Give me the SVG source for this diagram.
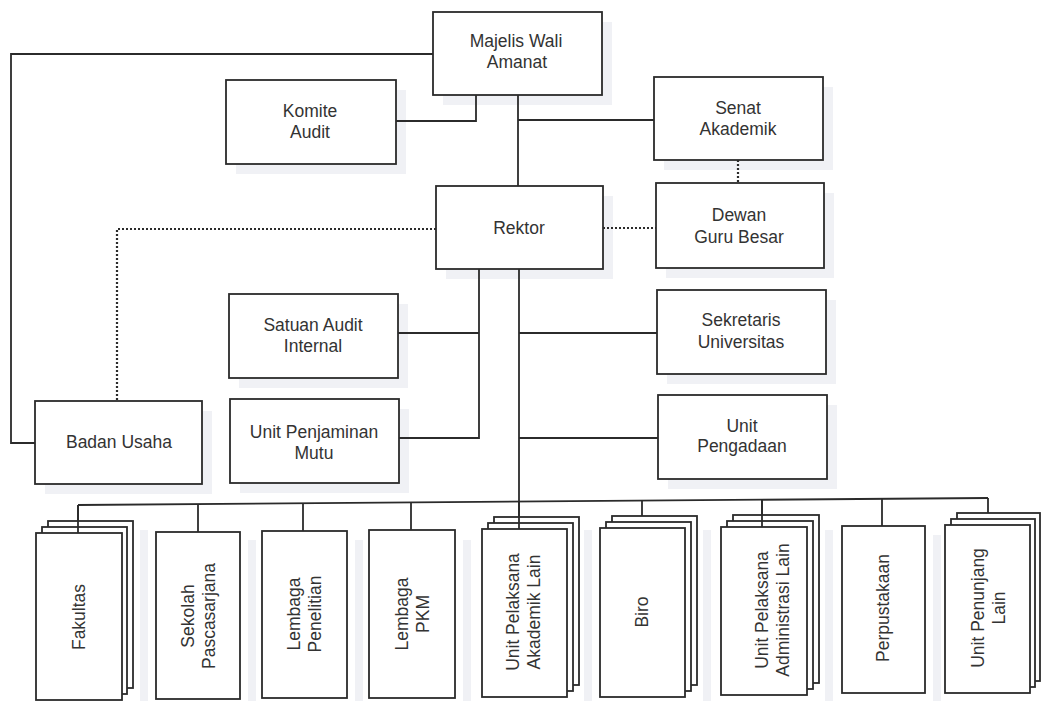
<svg xmlns="http://www.w3.org/2000/svg" width="1041" height="701" viewBox="0 0 1041 701">
<style>
.bg{fill:#ffffff}
.sh{fill:#f0f1f5}
.box{fill:#ffffff;stroke:#2b2b2b;stroke-width:1.8}
.ln{fill:none;stroke:#2b2b2b;stroke-width:1.8}
.dt{fill:none;stroke:#2b2b2b;stroke-width:2.2;stroke-dasharray:2 2}
.t{font-family:"Liberation Sans",Arial,sans-serif;font-size:17.5px;fill:#333333;text-anchor:middle}
</style>
<rect class="bg" x="0" y="0" width="1041" height="701"/>
<g id="shadows">
<rect class="sh" x="443" y="22" width="169" height="83"/>
<rect class="sh" x="236" y="90" width="170" height="84"/>
<rect class="sh" x="664" y="87" width="169" height="83"/>
<rect class="sh" x="446" y="196" width="167" height="83"/>
<rect class="sh" x="666" y="193" width="168" height="85"/>
<rect class="sh" x="239" y="304" width="169" height="84"/>
<rect class="sh" x="240" y="409" width="169" height="84"/>
<rect class="sh" x="45" y="411" width="167" height="83"/>
<rect class="sh" x="667" y="300" width="169" height="84"/>
<rect class="sh" x="668" y="405" width="169" height="84"/>
<rect class="sh" x="140" y="530" width="8" height="171"/>
<rect class="sh" x="248" y="540" width="8" height="161"/>
<rect class="sh" x="355" y="540" width="8" height="161"/>
<rect class="sh" x="463" y="540" width="8" height="161"/>
<rect class="sh" x="584" y="530" width="8" height="171"/>
<rect class="sh" x="703" y="530" width="8" height="171"/>
<rect class="sh" x="825" y="530" width="8" height="171"/>
<rect class="sh" x="933" y="535" width="8" height="166"/>
</g>
<g id="connectors">
<polyline class="ln" points="433,54 11,54 11,443 35,443"/>
<polyline class="ln" points="396,121 476,121 476,95"/>
<line class="ln" x1="518" y1="95" x2="518" y2="186"/>
<line class="ln" x1="518" y1="120" x2="654" y2="120"/>
<line class="dt" x1="738" y1="160" x2="738" y2="183"/>
<line class="dt" x1="603" y1="228" x2="656" y2="228"/>
<polyline class="dt" points="436,229 117,229 117,401"/>
<polyline class="ln" points="479,269 479,438 399,438"/>
<line class="ln" x1="398" y1="333" x2="479" y2="333"/>
<line class="ln" x1="519" y1="269" x2="519" y2="529"/>
<line class="ln" x1="519" y1="333" x2="657" y2="333"/>
<line class="ln" x1="519" y1="438" x2="658" y2="438"/>
<line class="ln" x1="78" y1="505" x2="988" y2="498"/>
<line class="ln" x1="78" y1="505" x2="78" y2="533"/>
<line class="ln" x1="198" y1="504" x2="198" y2="532"/>
<line class="ln" x1="303" y1="503.3" x2="303" y2="531"/>
<line class="ln" x1="411" y1="502.4" x2="411" y2="530"/>
<line class="ln" x1="642" y1="500.7" x2="642" y2="516"/>
<line class="ln" x1="762" y1="499.7" x2="762" y2="527"/>
<line class="ln" x1="882" y1="498.8" x2="882" y2="526"/>
<line class="ln" x1="988" y1="498" x2="988" y2="513"/>
</g>
<g id="majelis-wali-amanat">
<rect class="box" x="433" y="12" width="169" height="83"/>
<text class="t" x="516" y="47">Majelis Wali</text>
<text class="t" x="517" y="68">Amanat</text>
</g>
<g id="komite-audit">
<rect class="box" x="226" y="80" width="170" height="84"/>
<text class="t" x="310" y="117">Komite</text>
<text class="t" x="310" y="138">Audit</text>
</g>
<g id="senat-akademik">
<rect class="box" x="654" y="77" width="169" height="83"/>
<text class="t" x="738" y="114">Senat</text>
<text class="t" x="738" y="135">Akademik</text>
</g>
<g id="rektor">
<rect class="box" x="436" y="186" width="167" height="83"/>
<text class="t" x="519" y="234">Rektor</text>
</g>
<g id="dewan-guru-besar">
<rect class="box" x="656" y="183" width="168" height="85"/>
<text class="t" x="739" y="221">Dewan</text>
<text class="t" x="739" y="243">Guru Besar</text>
</g>
<g id="satuan-audit-internal">
<rect class="box" x="229" y="294" width="169" height="84"/>
<text class="t" x="313" y="331">Satuan Audit</text>
<text class="t" x="313" y="352">Internal</text>
</g>
<g id="unit-penjaminan-mutu">
<rect class="box" x="230" y="399" width="169" height="84"/>
<text class="t" x="314" y="438">Unit Penjaminan</text>
<text class="t" x="314" y="459">Mutu</text>
</g>
<g id="badan-usaha">
<rect class="box" x="35" y="401" width="167" height="83"/>
<text class="t" x="119" y="448">Badan Usaha</text>
</g>
<g id="sekretaris-universitas">
<rect class="box" x="657" y="290" width="169" height="84"/>
<text class="t" x="741" y="326">Sekretaris</text>
<text class="t" x="741" y="348">Universitas</text>
</g>
<g id="unit-pengadaan">
<rect class="box" x="658" y="395" width="169" height="84"/>
<text class="t" x="742" y="432">Unit</text>
<text class="t" x="742" y="452">Pengadaan</text>
</g>
<g id="fakultas">
<rect class="box" x="48" y="521" width="85" height="167"/>
<rect class="box" x="42" y="527" width="85" height="167"/>
<rect class="box" x="36" y="533" width="86" height="167"/>
<line class="ln" x1="78" y1="505" x2="78" y2="533"/>
<text class="t" transform="translate(79,617) rotate(-90)" y="6">Fakultas</text>
</g>
<g id="sekolah-pascasarjana">
<rect class="box" x="156" y="532" width="84" height="167"/>
<text class="t" transform="translate(198,616) rotate(-90)"><tspan x="0" y="-4">Sekolah</tspan><tspan x="0" y="16.5">Pascasarjana</tspan></text>
</g>
<g id="lembaga-penelitian">
<rect class="box" x="262" y="531" width="85" height="167"/>
<text class="t" transform="translate(304,614) rotate(-90)"><tspan x="0" y="-4">Lembaga</tspan><tspan x="0" y="16.5">Penelitian</tspan></text>
</g>
<g id="lembaga-pkm">
<rect class="box" x="369" y="530" width="86" height="168"/>
<text class="t" transform="translate(412,614) rotate(-90)"><tspan x="0" y="-4">Lembaga</tspan><tspan x="0" y="16.5">PKM</tspan></text>
</g>
<g id="unit-pelaksana-akademik-lain">
<rect class="box" x="494" y="517" width="85" height="168"/>
<rect class="box" x="488" y="523" width="85" height="168"/>
<rect class="box" x="482" y="529" width="85" height="168"/>
<line class="ln" x1="519" y1="501.6" x2="519" y2="529"/>
<text class="t" transform="translate(523,612) rotate(-90)"><tspan x="0" y="-4">Unit Pelaksana</tspan><tspan x="0" y="16.5">Akademik Lain</tspan></text>
</g>
<g id="biro">
<rect class="box" x="612" y="516" width="85" height="169"/>
<rect class="box" x="606" y="522" width="85" height="169"/>
<rect class="box" x="600" y="528" width="85" height="169"/>
<text class="t" transform="translate(642,612) rotate(-90)" y="6">Biro</text>
</g>
<g id="unit-pelaksana-administrasi-lain">
<rect class="box" x="733" y="515" width="86" height="168"/>
<rect class="box" x="727" y="521" width="86" height="168"/>
<rect class="box" x="721" y="527" width="86" height="168"/>
<line class="ln" x1="762" y1="499.7" x2="762" y2="527"/>
<text class="t" transform="translate(772,610) rotate(-90)"><tspan x="0" y="-4">Unit Pelaksana</tspan><tspan x="0" y="16.5">Administrasi Lain</tspan></text>
</g>
<g id="perpustakaan">
<rect class="box" x="842" y="526" width="83" height="167"/>
<text class="t" transform="translate(883,608) rotate(-90)" y="6">Perpustakaan</text>
</g>
<g id="unit-penunjang-lain">
<rect class="box" x="957" y="513" width="83" height="168"/>
<rect class="box" x="951" y="519" width="84" height="168"/>
<rect class="box" x="945" y="525" width="85" height="168"/>
<text class="t" transform="translate(988,608) rotate(-90)"><tspan x="0" y="-4">Unit Penunjang</tspan><tspan x="0" y="16.5">Lain</tspan></text>
</g>
</svg>
